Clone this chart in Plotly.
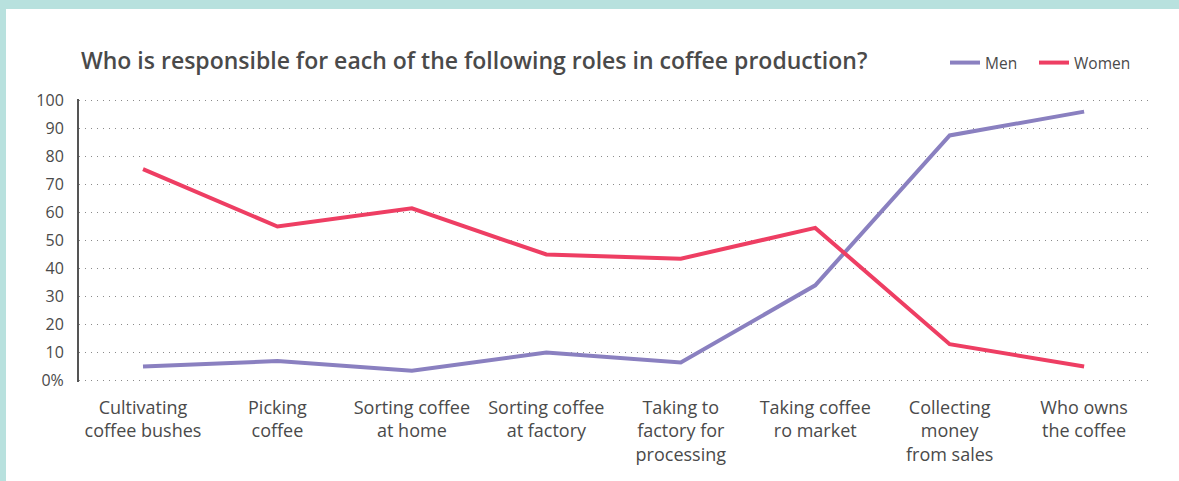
import plotly.graph_objects as go

categories = [
    "Cultivating<br>coffee bushes",
    "Picking<br>coffee",
    "Sorting coffee<br>at home",
    "Sorting coffee<br>at factory",
    "Taking to<br>factory for<br>processing",
    "Taking coffee<br>ro market",
    "Collecting<br>money<br>from sales",
    "Who owns<br>the coffee",
]
men = [5, 7, 3.5, 10, 6.5, 34, 87.5, 96]
women = [75.5, 55, 61.5, 45, 43.5, 54.5, 13, 5]

y_tickvals = [0, 10, 20, 30, 40, 50, 60, 70, 80, 90, 100]
y_ticktext = ["0%", "10", "20", "30", "40", "50", "60", "70", "80", "90", "100"]

TEXT = "#4a4a4a"
FONT = "Open Sans"

fig = go.Figure()
fig.add_trace(go.Scatter(x=list(range(len(categories))), y=men, name="Men", mode="lines",
                         line=dict(color="#8a80c0", width=4), legend="legend"))
fig.add_trace(go.Scatter(x=list(range(len(categories))), y=women, name="Women", mode="lines",
                         line=dict(color="#ee3e63", width=4), legend="legend2"))

W, H = 1179, 481
L, R = 79, 29
T, B = 99, 99  # y range padded by 0.5 so 0 and 100 gridlines show
pw, ph = W - L - R, H - T - B

def px(xp):
    return (xp - L) / pw

def py(yp):
    return (H - B - yp) / ph

legend_style = dict(orientation="h", yanchor="middle", xanchor="left",
                    font=dict(size=15.5, color=TEXT), itemwidth=30, bgcolor="rgba(0,0,0,0)")

fig.update_layout(
    width=W, height=H,
    margin=dict(l=L, r=R, t=T, b=B),
    paper_bgcolor="white", plot_bgcolor="white",
    font=dict(family=FONT, color=TEXT, size=16),
    showlegend=True,
    legend=dict(x=px(945), y=py(63), **legend_style),
    legend2=dict(x=px(1034), y=py(63), **legend_style),
    hovermode=False,
    annotations=[dict(text="Who is responsible for each of the following roles in coffee production?",
                      xref="paper", yref="paper", x=px(79), y=py(60), xanchor="left", yanchor="middle",
                      showarrow=False, font=dict(size=23, color=TEXT, family=FONT, weight=600))],
    shapes=[
        dict(type="rect", xref="paper", yref="paper", x0=px(0), x1=px(W), y0=py(9), y1=py(0),
             fillcolor="#b8e1de", line=dict(width=0), layer="below"),
        dict(type="rect", xref="paper", yref="paper", x0=px(0), x1=px(6), y0=py(H), y1=py(0),
             fillcolor="#b8e1de", line=dict(width=0), layer="below"),
    ],
)
fig.update_xaxes(
    tickmode="array", tickvals=list(range(len(categories))), ticktext=categories,
    range=[-0.476, 7.49], showgrid=False, zeroline=False, showline=False,
    ticks="", tickfont=dict(size=18, color=TEXT), ticklabelstandoff=13, fixedrange=True,
)
fig.update_yaxes(
    range=[-0.5, 100.5], tickvals=y_tickvals, ticktext=y_ticktext,
    showgrid=True, gridcolor="#8a8a8a", gridwidth=1, griddash="1px,5px",
    zeroline=False, showline=True, linecolor="#555555", linewidth=2,
    ticks="", tickfont=dict(size=16, color=TEXT), ticklabelstandoff=10, fixedrange=True,
)

fig.write_html("out.html", config={"displayModeBar": False},
               post_script="document.body.style.margin='0';document.body.style.padding='0';")
